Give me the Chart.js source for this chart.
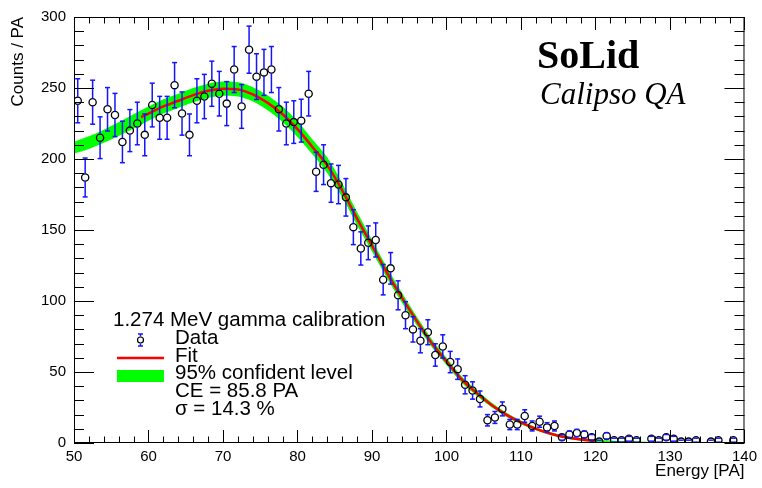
<!DOCTYPE html>
<html>
<head>
<meta charset="utf-8">
<script src="https://cdn.jsdelivr.net/npm/chart.js@4.4.1/dist/chart.umd.min.js"></script>
<style>
    body { margin: 0; background: #fff; }
    canvas { display: block; }
</style>
</head>
<body>
<canvas id="calib" width="762" height="488"></canvas>
<script>
// bin centres (1 PA bins) and counts
const energies = [
    50.5, 51.5, 52.5, 53.5, 54.5, 55.5, 56.5, 57.5, 58.5, 59.5,
    60.5, 61.5, 62.5, 63.5, 64.5, 65.5, 66.5, 67.5, 68.5, 69.5,
    70.5, 71.5, 72.5, 73.5, 74.5, 75.5, 76.5, 77.5, 78.5, 79.5,
    80.5, 81.5, 82.5, 83.5, 84.5, 85.5, 86.5, 87.5, 88.5, 89.5,
    90.5, 91.5, 92.5, 93.5, 94.5, 95.5, 96.5, 97.5, 98.5, 99.5,
    100.5, 101.5, 102.5, 103.5, 104.5, 105.5, 106.5, 107.5, 108.5, 109.5,
    110.5, 111.5, 112.5, 113.5, 114.5, 115.5, 116.5, 117.5, 118.5, 119.5,
    120.5, 121.5, 122.5, 123.5, 124.5, 125.5, 126.5, 127.5, 128.5, 129.5,
    130.5, 131.5, 132.5, 133.5, 134.5, 135.5, 136.5, 137.5, 138.5, 139.5
];
const counts = [
    241, 187, 240, 215, 235, 231, 212, 220, 225, 217,
    238, 229, 229, 252, 232, 217, 241, 244, 253, 246,
    239, 263, 237, 277, 258, 261, 263, 235, 225, 226,
    227, 246, 191, 196, 183, 182, 173, 152, 137, 141,
    143, 115, 123, 104, 90, 80, 72, 78, 62, 68,
    57, 52, 41, 37, 31, 16, 18, 24, 13, 13,
    19, 12, 15, 11, 12, 4, 6, 7, 6, 4,
    1, 5, 2, 2, 3, 2, null, 3, 2, 4,
    3, 1, 1, 2, null, 1, 2, null, 2, null
];
const errors = [
    15.5, 13.7, 15.5, 14.7, 15.3, 15.2, 14.6, 14.8, 15.0, 14.7,
    15.4, 15.1, 15.1, 15.9, 15.2, 14.7, 15.5, 15.6, 15.9, 15.7,
    15.5, 16.2, 15.4, 16.6, 16.1, 16.2, 16.2, 15.3, 15.0, 15.0,
    15.1, 15.7, 13.8, 14.0, 13.5, 13.5, 13.2, 12.3, 11.7, 11.9,
    12.0, 10.7, 11.1, 10.2, 9.5, 8.9, 8.5, 8.8, 7.9, 8.2,
    7.5, 7.2, 6.4, 6.1, 5.6, 4.0, 4.2, 4.9, 3.6, 3.6,
    4.4, 3.5, 3.9, 3.3, 3.5, 2.0, 2.4, 2.6, 2.4, 2.0,
    1.0, 2.2, 1.4, 1.4, 1.7, 1.4, null, 1.7, 1.4, 2.0,
    1.7, 1.0, 1.0, 1.4, null, 1.0, 1.4, null, 1.4, null
];

// fitted curve (red)
const fitX = [59, 60, 62, 64, 66, 68, 70, 72, 74, 76, 78, 80, 82, 84, 86, 88, 90,
    92, 94, 96, 98, 100, 102, 104, 106, 108, 110, 112, 114, 116, 118, 120];
const fitY = [229.5, 232, 237, 241, 245, 248, 249.5, 249, 245.5, 239.5, 231.5, 221, 208.5,
    195.5, 178, 158, 139, 120, 102.5, 86, 70.5, 57.5, 45, 35.5, 27, 20, 14.5, 10,
    6.5, 4, 2.5, 1.5];

// 95% confidence band (green)
const bandX = [50, 52, 54, 56, 58, 60, 62, 64, 66, 68, 70, 72, 74, 76, 78, 80, 82, 84, 86,
    88, 90, 92, 94, 96, 98, 100, 102, 104, 106, 108, 110, 112, 114, 116, 118, 120,
    122, 124, 126, 128];
const bandLow = [203.8, 207, 211.4, 216.2, 221.5, 227, 232, 236, 240, 243, 244.5, 244,
    240.5, 234.3, 226.1, 215.5, 203.3, 190, 173, 153.3, 134.8, 116.2, 99, 82.9,
    67.7, 55, 42.8, 33.5, 25.3, 18.5, 13.2, 8.9, 5.5, 3.1, 1.6, 0.7, 0.2, 0, 0, 0];
const bandHigh = [212.2, 216, 220.6, 225.8, 231.5, 237, 242, 246, 250, 253, 254.5, 254,
    250.5, 244.7, 236.9, 226.5, 213.7, 201, 183, 162.7, 143.2, 123.8, 106, 89.1,
    73.3, 60, 47.2, 37.5, 28.7, 21.5, 15.8, 11.1, 7.5, 4.9, 3.4, 2.3, 1.8, 1.3, 1.1, 0.8];

const legendLines = ["1.274 MeV gamma calibration", "Data", "Fit", "95% confident level",
    "CE = 85.8 PA", "σ = 14.3 %"];

const SANS = '"Liberation Sans", Arial, sans-serif';
const SERIF = '"Liberation Serif", "Times New Roman", serif';
const BAR_BLUE = "rgb(20,20,255)";
const MARKER_R = 3.6;

function pairs(xs, ys) {
    return xs.map((x, i) => ({ x: x, y: ys[i] }));
}

function line(ctx, x1, y1, x2, y2) {
    ctx.beginPath();
    ctx.moveTo(x1, y1);
    ctx.lineTo(x2, y2);
    ctx.stroke();
}

/**
 * vertical error bars with end caps, stopping at the marker edge
 */
const errorBars = {
    id: "errorBars",
    afterDatasetsDraw(chart) {
        const { ctx, scales: { x, y } } = chart;
        ctx.save();
        ctx.strokeStyle = BAR_BLUE;
        ctx.lineWidth = 1.5;
        energies.forEach((e, i) => {
            if (counts[i] === null) return;
            const px = x.getPixelForValue(e);
            const py = y.getPixelForValue(counts[i]);
            const top = y.getPixelForValue(counts[i] + errors[i]);
            const bot = y.getPixelForValue(Math.max(0, counts[i] - errors[i]));
            if (py - top > MARKER_R) line(ctx, px, py - MARKER_R, px, top);
            if (bot - py > MARKER_R) line(ctx, px, py + MARKER_R, px, bot);
            line(ctx, px - 2.5, top, px + 2.5, top);
            if (counts[i] - errors[i] > 0) line(ctx, px - 2.5, bot, px + 2.5, bot);
        });
        ctx.restore();
    }
};

/**
 * ROOT-like frame with inward ticks on all four sides
 */
const frame = {
    id: "frame",
    afterDraw(chart) {
        const { ctx, chartArea: a, scales: { x, y } } = chart;
        ctx.save();
        ctx.strokeStyle = "#000";
        ctx.lineWidth = 1;
        ctx.strokeRect(a.left + 0.5, a.top + 0.5, a.right - a.left - 1, a.bottom - a.top - 1);
        for (let v = x.min; v <= x.max; v += 2) {
            const px = Math.round(x.getPixelForValue(v)) + 0.5;
            const len = v % 10 === 0 ? 13 : 6.5;
            line(ctx, px, a.bottom, px, a.bottom - len);
            line(ctx, px, a.top, px, a.top + len);
        }
        for (let v = y.min; v <= y.max; v += 10) {
            const py = Math.round(y.getPixelForValue(v)) + 0.5;
            const len = v % 50 === 0 ? 20 : 10;
            line(ctx, a.left, py, a.left + len, py);
            line(ctx, a.right, py, a.right - len, py);
        }
        ctx.restore();
    }
};

/**
 * legend box and the SoLid label
 */
const annotations = {
    id: "annotations",
    afterDraw(chart) {
        const ctx = chart.ctx;
        ctx.save();
        ctx.fillStyle = "#000";
        ctx.textBaseline = "alphabetic";

        ctx.font = "bold 40px " + SERIF;
        ctx.fillText("SoLid", 537, 68);
        ctx.font = "italic 31px " + SERIF;
        ctx.fillText("Calipso QA", 540, 104);

        ctx.font = "20.5px " + SANS;
        ctx.fillText(legendLines[0], 113, 326);
        const lineH = 17.8;
        for (let i = 1; i < legendLines.length; i++) {
            ctx.fillText(legendLines[i], 175, 326 + i * lineH);
        }

        // data symbol
        ctx.strokeStyle = BAR_BLUE;
        ctx.lineWidth = 1.5;
        line(ctx, 140.5, 334, 140.5, 336.5);
        line(ctx, 140.5, 343.5, 140.5, 346);
        line(ctx, 138, 334, 143, 334);
        line(ctx, 138, 346, 143, 346);
        ctx.strokeStyle = "#000";
        ctx.lineWidth = 1.2;
        ctx.beginPath();
        ctx.arc(140.5, 340, 3, 0, Math.PI * 2);
        ctx.stroke();

        // fit symbol
        ctx.strokeStyle = "#ff0000";
        ctx.lineWidth = 2.5;
        line(ctx, 117, 358, 164, 358);

        // band symbol
        ctx.fillStyle = "#00ff00";
        ctx.fillRect(117, 370, 47, 12);
        ctx.restore();
    }
};

const config = {
    type: "line",
    data: {
        datasets: [
            {
                label: "Data",
                type: "scatter",
                data: pairs(energies, counts),
                showLine: false,
                pointRadius: MARKER_R,
                pointBorderWidth: 1.3,
                pointBorderColor: "#000",
                pointBackgroundColor: "rgba(0,0,0,0)",
                order: 0
            },
            {
                label: "Fit",
                data: pairs(fitX, fitY),
                borderColor: "#ff0000",
                borderWidth: 2.5,
                pointRadius: 0,
                cubicInterpolationMode: "monotone",
                fill: false,
                order: 1
            },
            {
                label: "band high",
                data: pairs(bandX, bandHigh),
                borderWidth: 0,
                borderColor: "rgba(0,0,0,0)",
                pointRadius: 0,
                cubicInterpolationMode: "monotone",
                fill: false,
                order: 2
            },
            {
                label: "95% confident level",
                data: pairs(bandX, bandLow),
                borderWidth: 0,
                borderColor: "rgba(0,0,0,0)",
                backgroundColor: "#00ff00",
                pointRadius: 0,
                cubicInterpolationMode: "monotone",
                fill: "-1",
                order: 3
            }
        ]
    },
    options: {
        responsive: false,
        animation: false,
        layout: { padding: { left: 0, right: 17, top: 15, bottom: 0 } },
        plugins: {
            legend: { display: false },
            tooltip: { enabled: false }
        },
        scales: {
            x: {
                type: "linear",
                min: 50,
                max: 140,
                grid: { display: false, drawTicks: false },
                border: { display: false },
                ticks: {
                    stepSize: 10,
                    padding: 5,
                    color: "#000",
                    font: { family: SANS, size: 15 },
                    maxRotation: 0
                },
                title: {
                    display: true,
                    text: "Energy [PA]",
                    align: "end",
                    color: "#000",
                    font: { family: SANS, size: 17 },
                    padding: { top: 0, bottom: 6 }
                },
                afterFit(scale) { scale.height = 45; }
            },
            y: {
                min: 0,
                max: 300,
                grid: { display: false, drawTicks: false },
                border: { display: false },
                ticks: {
                    stepSize: 50,
                    padding: 8,
                    color: "#000",
                    font: { family: SANS, size: 15 }
                },
                title: {
                    display: true,
                    text: "Counts / PA",
                    align: "end",
                    color: "#000",
                    font: { family: SANS, size: 17 },
                    padding: { top: 8, bottom: 0 }
                },
                afterFit(scale) { scale.width = 74; }
            }
        }
    },
    plugins: [errorBars, frame, annotations]
};

document.addEventListener("DOMContentLoaded", () => {
    new Chart(document.getElementById("calib").getContext("2d"), config);
});
</script>
</body>
</html>
